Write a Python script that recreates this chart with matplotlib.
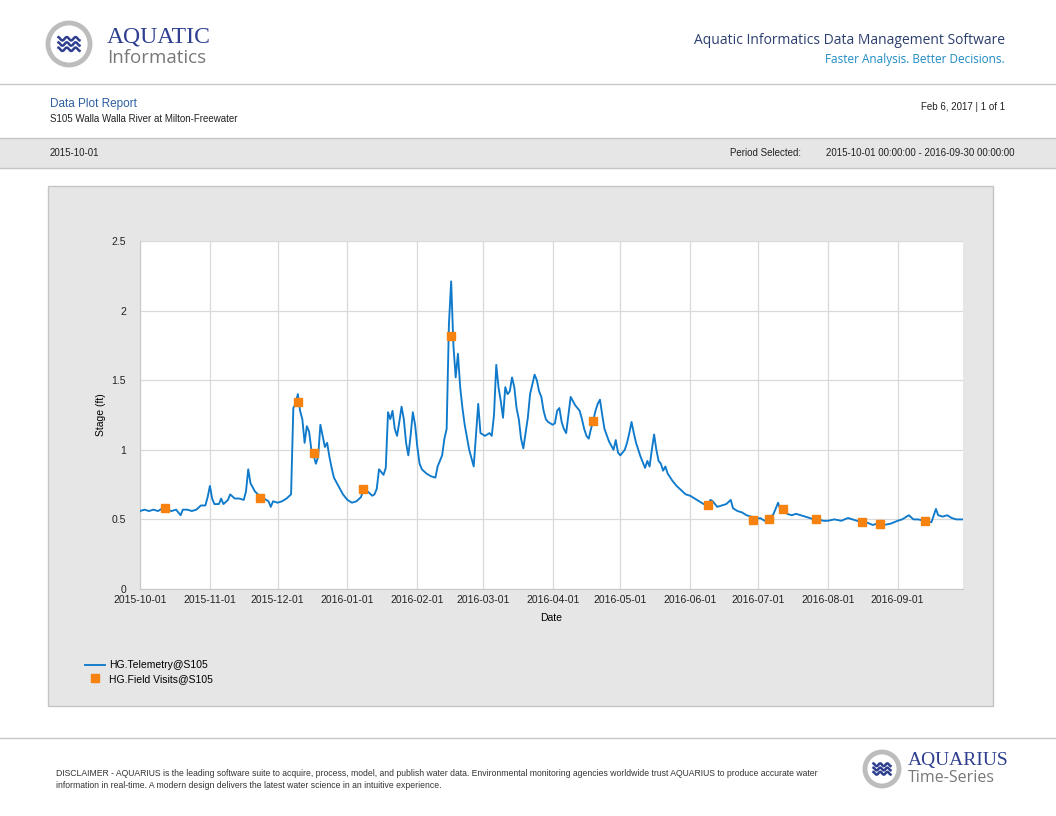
import numpy as np
import pandas as pd
import matplotlib
matplotlib.use("Agg")
import matplotlib.pyplot as plt
import matplotlib.dates as mdates
from matplotlib.patches import Rectangle, Ellipse
from matplotlib.lines import Line2D

W, H = 1056, 816

# telemetry stage (ft)
tel_dates = [
    "2015-10-01", "2015-10-03", "2015-10-05", "2015-10-07", "2015-10-09", "2015-10-11", "2015-10-13",
    "2015-10-15", "2015-10-17", "2015-10-19", "2015-10-20", "2015-10-22", "2015-10-24", "2015-10-26",
    "2015-10-28", "2015-10-30", "2015-10-31", "2015-11-01", "2015-11-02", "2015-11-03", "2015-11-05",
    "2015-11-06", "2015-11-07", "2015-11-09", "2015-11-10", "2015-11-12", "2015-11-14", "2015-11-16",
    "2015-11-17", "2015-11-18", "2015-11-19", "2015-11-21", "2015-11-23", "2015-11-25", "2015-11-27",
    "2015-11-28", "2015-11-29", "2015-12-01", "2015-12-03", "2015-12-05", "2015-12-07", "2015-12-08",
    "2015-12-09", "2015-12-10", "2015-12-11", "2015-12-12", "2015-12-13", "2015-12-14", "2015-12-15",
    "2015-12-16", "2015-12-17", "2015-12-18", "2015-12-19", "2015-12-20", "2015-12-21", "2015-12-22",
    "2015-12-23", "2015-12-24", "2015-12-25", "2015-12-26", "2015-12-28", "2015-12-30", "2016-01-01",
    "2016-01-03", "2016-01-05", "2016-01-07", "2016-01-08", "2016-01-09", "2016-01-10", "2016-01-12",
    "2016-01-13", "2016-01-14", "2016-01-15", "2016-01-16", "2016-01-17", "2016-01-18", "2016-01-19",
    "2016-01-20", "2016-01-21", "2016-01-22", "2016-01-23", "2016-01-24", "2016-01-25", "2016-01-26",
    "2016-01-27", "2016-01-28", "2016-01-29", "2016-01-30", "2016-01-31", "2016-02-01", "2016-02-02",
    "2016-02-03", "2016-02-05", "2016-02-07", "2016-02-09", "2016-02-10", "2016-02-11", "2016-02-12",
    "2016-02-13", "2016-02-14", "2016-02-15", "2016-02-16", "2016-02-17", "2016-02-18", "2016-02-19",
    "2016-02-20", "2016-02-21", "2016-02-22", "2016-02-24", "2016-02-26", "2016-02-28", "2016-02-29",
    "2016-03-02", "2016-03-04", "2016-03-05", "2016-03-06", "2016-03-07", "2016-03-08", "2016-03-09",
    "2016-03-10", "2016-03-11", "2016-03-12", "2016-03-13", "2016-03-14", "2016-03-15", "2016-03-16",
    "2016-03-17", "2016-03-18", "2016-03-19", "2016-03-20", "2016-03-21", "2016-03-22", "2016-03-23",
    "2016-03-24", "2016-03-25", "2016-03-26", "2016-03-27", "2016-03-28", "2016-03-29", "2016-03-30",
    "2016-04-01", "2016-04-02", "2016-04-03", "2016-04-04", "2016-04-05", "2016-04-06", "2016-04-07",
    "2016-04-08", "2016-04-09", "2016-04-10", "2016-04-11", "2016-04-12", "2016-04-13", "2016-04-14",
    "2016-04-15", "2016-04-16", "2016-04-17", "2016-04-18", "2016-04-19", "2016-04-20", "2016-04-21",
    "2016-04-22", "2016-04-23", "2016-04-24", "2016-04-26", "2016-04-28", "2016-04-29", "2016-04-30",
    "2016-05-01", "2016-05-03", "2016-05-04", "2016-05-05", "2016-05-06", "2016-05-07", "2016-05-08",
    "2016-05-10", "2016-05-12", "2016-05-13", "2016-05-14", "2016-05-15", "2016-05-16", "2016-05-17",
    "2016-05-18", "2016-05-19", "2016-05-20", "2016-05-21", "2016-05-22", "2016-05-24", "2016-05-26",
    "2016-05-28", "2016-05-30", "2016-06-01", "2016-06-03", "2016-06-05", "2016-06-07", "2016-06-09",
    "2016-06-10", "2016-06-11", "2016-06-13", "2016-06-15", "2016-06-17", "2016-06-19", "2016-06-20",
    "2016-06-22", "2016-06-24", "2016-06-26", "2016-06-28", "2016-06-30", "2016-07-02", "2016-07-04",
    "2016-07-06", "2016-07-08", "2016-07-10", "2016-07-11", "2016-07-12", "2016-07-14", "2016-07-16",
    "2016-07-18", "2016-07-20", "2016-07-22", "2016-07-24", "2016-07-26", "2016-07-28", "2016-07-30",
    "2016-08-01", "2016-08-04", "2016-08-07", "2016-08-10", "2016-08-12", "2016-08-14", "2016-08-16",
    "2016-08-18", "2016-08-21", "2016-08-23", "2016-08-26", "2016-08-29", "2016-09-01", "2016-09-03",
    "2016-09-06", "2016-09-08", "2016-09-10", "2016-09-13", "2016-09-16", "2016-09-18", "2016-09-19",
    "2016-09-21", "2016-09-23", "2016-09-25", "2016-09-27", "2016-09-30",
]
tel_stage = [
    0.56, 0.57, 0.56, 0.57, 0.56, 0.58, 0.57,
    0.56, 0.57, 0.53, 0.57, 0.57, 0.56, 0.57,
    0.60, 0.60, 0.66, 0.74, 0.65, 0.61, 0.61,
    0.65, 0.61, 0.64, 0.68, 0.65, 0.65, 0.64,
    0.70, 0.86, 0.76, 0.70, 0.67, 0.65, 0.63,
    0.59, 0.63, 0.62, 0.63, 0.65, 0.68, 1.30,
    1.33, 1.40, 1.28, 1.22, 1.05, 1.17, 1.13,
    1.00, 0.96, 0.90, 0.95, 1.18, 1.10, 1.02,
    1.05, 0.95, 0.87, 0.80, 0.74, 0.68, 0.64,
    0.62, 0.63, 0.66, 0.71, 0.72, 0.70, 0.67,
    0.68, 0.72, 0.86, 0.84, 0.82, 0.87, 1.27,
    1.22, 1.28, 1.15, 1.10, 1.20, 1.31, 1.22,
    1.05, 0.96, 1.10, 1.27, 1.18, 1.02, 0.90,
    0.86, 0.83, 0.81, 0.80, 0.88, 0.92, 0.96,
    1.08, 1.15, 1.90, 2.21, 1.75, 1.52, 1.69,
    1.45, 1.30, 1.18, 1.00, 0.88, 1.33, 1.12,
    1.10, 1.12, 1.10, 1.25, 1.61, 1.45, 1.35,
    1.23, 1.45, 1.40, 1.42, 1.52, 1.45, 1.30,
    1.22, 1.08, 1.01, 1.12, 1.23, 1.40, 1.47,
    1.54, 1.50, 1.42, 1.38, 1.28, 1.22, 1.20,
    1.18, 1.19, 1.28, 1.30, 1.20, 1.15, 1.12,
    1.25, 1.38, 1.35, 1.32, 1.30, 1.28, 1.22,
    1.15, 1.10, 1.08, 1.15, 1.21, 1.28, 1.33,
    1.36, 1.25, 1.15, 1.06, 1.00, 1.07, 0.98,
    0.96, 1.00, 1.05, 1.12, 1.20, 1.12, 1.05,
    0.95, 0.87, 0.92, 0.88, 1.00, 1.11, 1.00,
    0.92, 0.90, 0.85, 0.88, 0.83, 0.78, 0.74,
    0.71, 0.68, 0.67, 0.65, 0.63, 0.61, 0.61,
    0.64, 0.63, 0.59, 0.60, 0.61, 0.64, 0.58,
    0.56, 0.55, 0.53, 0.52, 0.50, 0.51, 0.49,
    0.50, 0.54, 0.62, 0.57, 0.57, 0.54, 0.53,
    0.54, 0.53, 0.52, 0.51, 0.50, 0.50, 0.49,
    0.49, 0.50, 0.49, 0.51, 0.50, 0.49, 0.48,
    0.48, 0.46, 0.47, 0.46, 0.47, 0.49, 0.50,
    0.53, 0.50, 0.50, 0.49, 0.48, 0.575, 0.53,
    0.52, 0.53, 0.51, 0.50, 0.50,
]

# field visits
visit_dates = ["2015-10-12", "2015-11-23", "2015-12-10", "2015-12-17", "2016-01-08",
               "2016-02-16", "2016-04-19", "2016-06-09", "2016-06-29", "2016-07-06",
               "2016-07-12", "2016-07-27", "2016-08-16", "2016-08-24", "2016-09-13"]
visit_stage = [0.58, 0.655, 1.34, 0.98, 0.715,
               1.815, 1.21, 0.60, 0.495, 0.50,
               0.575, 0.505, 0.48, 0.47, 0.49]

tick_dates = ["2015-10-01", "2015-11-01", "2015-12-01", "2016-01-01", "2016-02-01",
              "2016-03-01", "2016-04-01", "2016-05-01", "2016-06-01", "2016-07-01",
              "2016-08-01", "2016-09-01"]

BLUE = "#0f7acb"
ORANGE = "#f7820f"
GRAY_BAND = "#e6e6e6"
NAVY = "#2e3f8f"

plt.rcParams['font.family'] = ['Liberation Sans', 'DejaVu Sans']

fig = plt.figure(figsize=(W / 100, H / 100), dpi=100)
fig.patch.set_facecolor("white")


def P(x, y):
    return (x / W, 1 - y / H)


def txt(x, y, s, **kw):
    kw.setdefault("va", "center")
    fig.text(*P(x, y), s, **kw)


def hline(y, x0=0, x1=W, color="#c8c8c8", lw=1.0):
    fig.add_artist(Line2D([x0 / W, x1 / W], [1 - y / H, 1 - y / H], color=color, lw=lw,
                          transform=fig.transFigure, zorder=-5))


def logo(cx, cy, r):
    fig.add_artist(Ellipse(P(cx, cy), 2 * r / W, 2 * r / H, transform=fig.transFigure,
                           facecolor="white", edgecolor="#bdbdbd", lw=3.5, zorder=-5))
    # three little waves
    t = np.linspace(-0.5, 0.5, 60)
    for dy in [-0.25, 0.0, 0.25]:
        xs = cx + t * r
        ys = cy + dy * r + 0.08 * r * np.sin(t * 15)
        fig.add_artist(Line2D(xs / W, 1 - ys / H, color=NAVY, lw=1.8,
                              transform=fig.transFigure, zorder=-4))


# header
logo(69, 44, 21)
txt(107, 37, "AQUATIC", fontsize=17, color=NAVY, family="Liberation Serif")
txt(107, 58, "Informatics", fontsize=13.5, color="#787878", family="Open Sans")
txt(1005, 41, "Aquatic Informatics Data Management Software", fontsize=10,
    color="#2b3f6f", ha="right", family="Open Sans")
txt(1005, 60, "Faster Analysis. Better Decisions.", fontsize=8.5, color="#1e8bc3",
    ha="right", family="Open Sans")
hline(84)

txt(50, 104, "Data Plot Report", fontsize=8.5, color="#2e5fa0")
txt(50, 119, "S105 Walla Walla River at Milton-Freewater", fontsize=7, color="#222222")
txt(1005, 107, "Feb 6, 2017 | 1 of 1", fontsize=7, color="#222222", ha="right")

# gray period band
fig.add_artist(Rectangle(P(0, 168), 1, 30 / H, transform=fig.transFigure,
                         facecolor=GRAY_BAND, edgecolor="none", zorder=-6))
hline(138, color="#c4c4c4")
hline(168, color="#c4c4c4")
txt(50, 153, "2015-10-01", fontsize=7, color="#222222")
txt(730, 153, "Period Selected:", fontsize=7, color="#222222")
txt(1015, 153, "2015-10-01 00:00:00 - 2016-09-30 00:00:00", fontsize=7, color="#222222",
    ha="right")

# plot panel (behind the axes)
fig.add_artist(Rectangle(P(48, 706), 945 / W, 520 / H, transform=fig.transFigure,
                         facecolor=GRAY_BAND, edgecolor="#c4c4c4", lw=1, zorder=-6))

ax = fig.add_axes([140 / W, 1 - 589 / H, 823 / W, 348 / H])
ax.set_facecolor("white")

td = pd.to_datetime(tel_dates)
vd = pd.to_datetime(visit_dates)
ax.plot(td, tel_stage, color=BLUE, lw=1.35, label="HG.Telemetry@S105", zorder=3)
ax.plot(vd, visit_stage, ls="none", marker="s", ms=5.3, color=ORANGE,
        label="HG.Field Visits@S105", zorder=4)

ax.set_xlim(pd.Timestamp("2015-10-01"), pd.Timestamp("2016-09-30"))
ax.set_ylim(0, 2.5)
ax.set_yticks([0, 0.5, 1, 1.5, 2, 2.5])
ax.set_yticklabels(["0", "0.5", "1", "1.5", "2", "2.5"])
ax.set_xticks(pd.to_datetime(tick_dates))
ax.xaxis.set_major_formatter(mdates.DateFormatter("%Y-%m-%d"))
ax.grid(True, color="#d9d9d9", lw=0.9)
ax.set_axisbelow(True)
for side in ["top", "right"]:
    ax.spines[side].set_visible(False)
for side in ["left", "bottom"]:
    ax.spines[side].set_color("#c8c8c8")
ax.tick_params(axis="both", length=0, labelsize=7.5, colors="#222222", pad=4)
ax.tick_params(axis="y", pad=10)
ax.set_xlabel("Date", fontsize=7.5, labelpad=6)
ax.set_ylabel("Stage (ft)", fontsize=7.5, labelpad=4)

fig.legend(loc="upper left", bbox_to_anchor=P(80, 655), frameon=False, fontsize=7.5,
           handlelength=1.9, handletextpad=0.4, labelspacing=0.35, borderpad=0)

# footer
hline(738)
txt(56, 773, "DISCLAIMER - AQUARIUS is the leading software suite to acquire, process, model, and publish water data. "
    "Environmental monitoring agencies worldwide trust AQUARIUS to produce accurate water",
    fontsize=6.2, color="#333333")
txt(56, 785, "information in real-time. A modern design delivers the latest water science in an intuitive experience.",
    fontsize=6.2, color="#333333")
logo(882, 769, 17)
txt(908, 761, "AQUARIUS", fontsize=14, color=NAVY, family="Liberation Serif")
txt(908, 778, "Time-Series", fontsize=11.5, color="#787878", family="Open Sans")

fig.savefig("out.png", dpi=100, facecolor="white")
